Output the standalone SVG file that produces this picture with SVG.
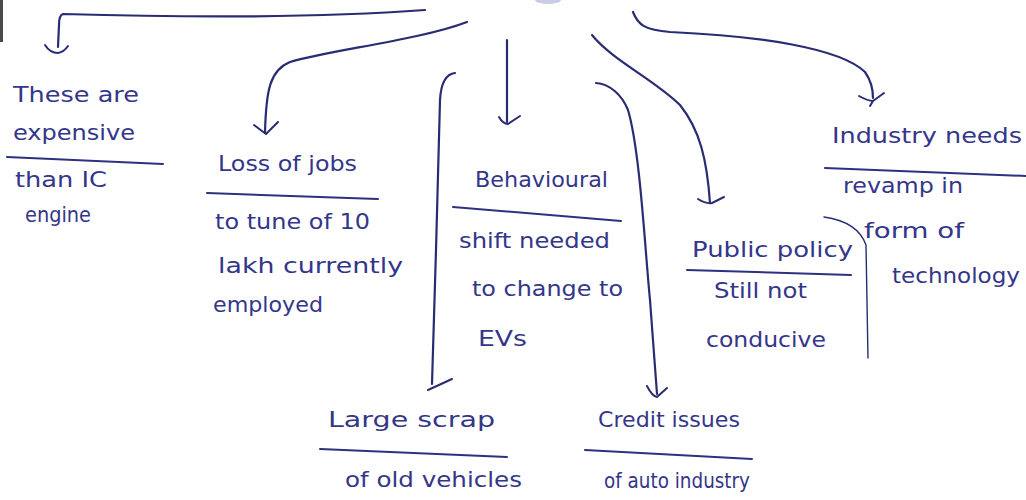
<svg xmlns="http://www.w3.org/2000/svg" width="1026" height="500" viewBox="0 0 1026 500">
<style>
.t{font-family:"DejaVu Sans","Liberation Sans",sans-serif;font-size:22px;fill:#34368a}
.d{fill:none;stroke:#2e3080;stroke-width:2;stroke-linecap:round}
.c{fill:none;stroke:#2a2c72;stroke-width:2.2;stroke-linecap:round;stroke-linejoin:round}
.a{fill:none;stroke:#2a2c72;stroke-width:2;stroke-linecap:round;stroke-linejoin:round}
</style>
<rect width="1026" height="500" fill="#ffffff"/>
<rect x="0" y="0" width="3" height="42" fill="#4a4a4a"/>
<ellipse cx="548" cy="0" rx="13" ry="4" fill="#c9cbe8"/>
<g id="connectors">
<path class="c" d="M425,10 C330,17 200,18 63,14 Q59,15 59,25 L58,47"/>
<path class="a" d="M45,45 Q50,53 58,53 Q64,52 68,46"/>
<path class="c" d="M467,22 C420,40 330,50 290,62 C270,70 266,90 265,133"/>
<path class="a" d="M254,125 L266,134 L278,122"/>
<path class="c" d="M507,40 L507,122"/>
<path class="a" d="M499,117 Q503,124 508,124 L520,116"/>
<path class="c" d="M455,73 C446,74 441,82 440,100 L436,250 L432,384"/>
<path class="a" d="M428,390 L452,379"/>
<path class="c" d="M596,83 C610,84 622,95 628,110 C640,150 645,250 650,300 L657,394"/>
<path class="a" d="M647,386 Q652,396 657,397 L667,388"/>
<path class="c" d="M592,35 C612,60 655,80 680,105 C700,130 707,160 710,203"/>
<path class="a" d="M698,199 Q706,204 712,203 L724,197"/>
<path class="c" d="M633,12 C638,25 645,30 670,32 C760,36 840,48 865,72 C872,82 873,90 873,98"/>
<path class="a" d="M859,96 Q868,101 873,101 L884,93 M873,101 L870,106"/>
<path class="a" style="stroke-width:1.4" d="M824,217 C845,220 860,228 866,245 L868,358"/>
</g>
<g id="n-expensive">
<text class="t" x="13" y="102" textLength="126" lengthAdjust="spacingAndGlyphs">These are</text>
<text class="t" x="13" y="140" textLength="122" lengthAdjust="spacingAndGlyphs">expensive</text>
<path class="d" d="M7,157 L163,164"/>
<text class="t" x="15" y="187" textLength="92" lengthAdjust="spacingAndGlyphs">than IC</text>
<text class="t" x="25" y="222" textLength="66" lengthAdjust="spacingAndGlyphs">engine</text>
</g>
<g id="n-jobs">
<text class="t" x="218" y="171" textLength="139" lengthAdjust="spacingAndGlyphs">Loss of jobs</text>
<path class="d" d="M207,193 L378,199"/>
<text class="t" x="215" y="229" textLength="155" lengthAdjust="spacingAndGlyphs">to tune of 10</text>
<text class="t" x="218" y="273" textLength="185" lengthAdjust="spacingAndGlyphs">lakh currently</text>
<text class="t" x="213" y="312" textLength="110" lengthAdjust="spacingAndGlyphs">employed</text>
</g>
<g id="n-behaviour">
<text class="t" x="475" y="187" textLength="133" lengthAdjust="spacingAndGlyphs">Behavioural</text>
<path class="d" d="M453,207 L621,221"/>
<text class="t" x="459" y="248" textLength="151" lengthAdjust="spacingAndGlyphs">shift needed</text>
<text class="t" x="472" y="296" textLength="151" lengthAdjust="spacingAndGlyphs">to change to</text>
<text class="t" x="478" y="346" textLength="49" lengthAdjust="spacingAndGlyphs">EVs</text>
</g>
<g id="n-policy">
<text class="t" x="692" y="257" textLength="161" lengthAdjust="spacingAndGlyphs">Public policy</text>
<path class="d" d="M687,270 L851,275"/>
<text class="t" x="714" y="298" textLength="93" lengthAdjust="spacingAndGlyphs">Still not</text>
<text class="t" x="706" y="347" textLength="120" lengthAdjust="spacingAndGlyphs">conducive</text>
</g>
<g id="n-industry">
<text class="t" x="832" y="143" textLength="190" lengthAdjust="spacingAndGlyphs">Industry needs</text>
<path class="d" d="M825,168 L1026,176"/>
<text class="t" x="843" y="193" textLength="120" lengthAdjust="spacingAndGlyphs">revamp in</text>
<text class="t" x="864" y="238" textLength="100" lengthAdjust="spacingAndGlyphs">form of</text>
<text class="t" x="892" y="283" textLength="128" lengthAdjust="spacingAndGlyphs">technology</text>
</g>
<g id="n-scrap">
<text class="t" x="328" y="427" textLength="167" lengthAdjust="spacingAndGlyphs">Large scrap</text>
<path class="d" d="M320,449 L507,457"/>
<text class="t" x="345" y="487" textLength="177" lengthAdjust="spacingAndGlyphs">of old vehicles</text>
</g>
<g id="n-credit">
<text class="t" x="598" y="427" textLength="142" lengthAdjust="spacingAndGlyphs">Credit issues</text>
<path class="d" d="M585,450 L752,459"/>
<text class="t" x="604" y="488" textLength="146" lengthAdjust="spacingAndGlyphs">of auto industry</text>
</g>
</svg>
